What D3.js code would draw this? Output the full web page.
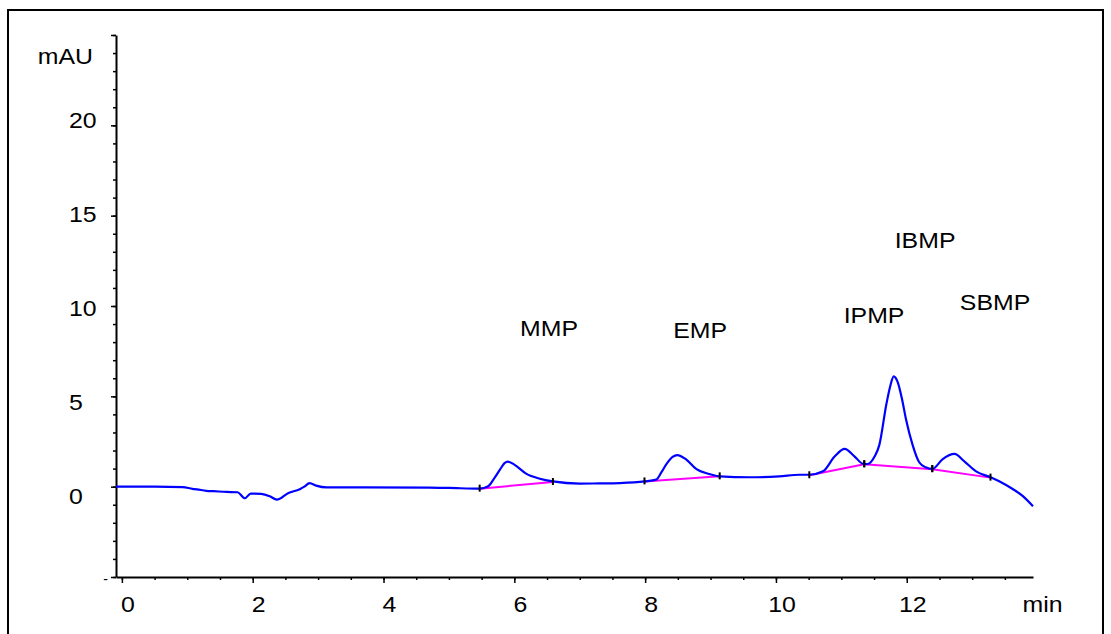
<!DOCTYPE html>
<html>
<head>
<meta charset="utf-8">
<script src="https://cdn.jsdelivr.net/npm/d3@7"></script>
<style>
  body { margin: 0; background: #fff; }
  text { font-family: "Liberation Sans", Arial, sans-serif; fill: #000; }
</style>
</head>
<body>
<div id="chart"></div>
<script>
// chromatogram trace (retention time in min, signal in mAU)
var rtMin = [-0.09, 0.5, 0.93, 1.08, 1.15, 1.29, 1.4, 1.6, 1.77, 1.88, 1.97, 2.13, 2.26, 2.37, 2.54, 2.72, 2.79, 2.87, 2.97, 3.13, 3.7, 4.7, 5.0, 5.47,
  5.6, 5.7, 5.78, 5.85, 5.9, 6.0, 6.18, 6.39, 6.59, 7.0, 7.3, 7.61, 7.99, 8.17, 8.25, 8.32, 8.42, 8.49, 8.63, 8.78, 8.98, 9.14, 9.6,
  10.05, 10.36, 10.51, 10.72, 10.9, 11.05, 11.2, 11.33, 11.4, 11.51, 11.58, 11.69, 11.75, 11.8, 11.86, 11.93, 11.99, 12.09, 12.19, 12.29, 12.39,
  12.55, 12.73, 12.88, 13.06, 13.28, 13.42, 13.62, 13.78, 13.93];
var mAU = [0.0, 0.0, -0.02, -0.12, -0.15, -0.23, -0.25, -0.29, -0.31, -0.64, -0.38, -0.4, -0.53, -0.72, -0.36, -0.14, 0.0, 0.2, 0.06, -0.04, -0.04, -0.05, -0.07, -0.11,
  0.02, 0.5, 0.94, 1.3, 1.39, 1.22, 0.72, 0.44, 0.29, 0.17, 0.18, 0.2, 0.29, 0.39, 0.8, 1.22, 1.65, 1.75, 1.5, 0.98, 0.7, 0.57, 0.52,
  0.57, 0.66, 0.66, 0.85, 1.68, 2.09, 1.68, 1.27, 1.25, 1.68, 2.3, 4.6, 5.6, 6.11, 5.8, 4.8, 3.7, 2.3, 1.35, 1.07, 0.98,
  1.53, 1.81, 1.4, 0.85, 0.52, 0.29, -0.13, -0.54, -1.09];

// integration baselines: start / end of each peak
var peakNames = ["MMP", "EMP", "IPMP", "IBMP", "SBMP"];
var baseStartRT = [5.47, 7.99, 10.51, 11.35, 12.39];
var baseStartMAU = [-0.11, 0.29, 0.63, 1.24, 0.97];
var baseEndRT = [6.59, 9.14, 11.35, 12.39, 13.28];
var baseEndMAU = [0.26, 0.57, 1.24, 0.97, 0.5];

// peak name label anchors
var labelRT = [6.53, 8.84, 11.5, 12.28, 13.35];
var labelMAU = [8.78, 8.67, 9.5, 13.65, 10.22];

// axis ticks
var yMajor = [-5, 0, 5, 10, 15, 20, 25];
var yMinor = d3.range(-5, 26, 1);
var yLabels = [0, 5, 10, 15, 20];
var xMajor = [0, 2, 4, 6, 8, 10, 12];
var xMinor = d3.range(0, 13.51, 0.5);

var W = 1111, H = 634;
var svg = d3.select("#chart").append("svg")
  .attr("width", W).attr("height", H);

// outer frame
svg.append("rect")
  .attr("x", 8).attr("y", 10)
  .attr("width", 1095).attr("height", 640)
  .attr("fill", "none").attr("stroke", "#000").attr("stroke-width", 2);

var x = d3.scaleLinear().domain([-0.09, 13.93]).range([116, 1033]);
var y = d3.scaleLinear().domain([-5, 25]).range([577, 35]);
// tick labels sit a bit off the ticks in the original export
var yLab = d3.scaleLinear().domain([0, 20]).range([496, 120]);

var stretch = "scale(1.13,1)";

// y axis
svg.append("g").attr("transform", "translate(116,0)")
  .call(d3.axisLeft(y).tickValues(yMinor).tickSize(3).tickFormat(""))
  .call(g => g.select(".domain").remove())
  .selectAll("line").attr("stroke-width", 1.5);
svg.append("g").attr("transform", "translate(116,0)")
  .call(d3.axisLeft(y).tickValues(yMajor).tickSize(5).tickSizeOuter(0).tickFormat(""))
  .call(g => g.select(".domain").attr("stroke-width", 2))
  .selectAll("line").attr("stroke-width", 1.5);

svg.selectAll(".ylab").data(yLabels).enter().append("text")
  .attr("class", "ylab")
  .attr("transform", d => "translate(69," + (yLab(d) + 8) + ") " + stretch)
  .style("font-size", "22px")
  .text(d => d);
svg.append("text")
  .attr("transform", "translate(93,64) " + stretch)
  .attr("text-anchor", "end")
  .style("font-size", "22px")
  .text("mAU");
svg.append("text")
  .attr("x", 108).attr("y", y(-5) + 7)
  .attr("text-anchor", "end")
  .style("font-size", "14px")
  .text("-");

// x axis
svg.append("g").attr("transform", "translate(0,577)")
  .call(d3.axisBottom(x).tickValues(xMinor).tickSize(3).tickFormat(""))
  .call(g => g.select(".domain").remove())
  .selectAll("line").attr("stroke-width", 1.5);
svg.append("g").attr("transform", "translate(0,577)")
  .call(d3.axisBottom(x).tickValues(xMajor).tickSize(6).tickSizeOuter(0).tickFormat(""))
  .call(g => g.select(".domain").attr("stroke-width", 2))
  .selectAll("line").attr("stroke-width", 1.5);

svg.selectAll(".xlab").data(xMajor).enter().append("text")
  .attr("class", "xlab")
  .attr("transform", d => "translate(" + (x(d) + 6) + ",612) " + stretch)
  .attr("text-anchor", "middle")
  .style("font-size", "22px")
  .text(d => d);
svg.append("text")
  .attr("transform", "translate(" + (x(14) + 5) + ",612) " + stretch)
  .attr("text-anchor", "middle")
  .style("font-size", "22px")
  .text("min");

// baselines
var baseData = peakNames.map(function(n, i) {
  return { name: n, t0: baseStartRT[i], v0: baseStartMAU[i], t1: baseEndRT[i], v1: baseEndMAU[i] };
});
svg.selectAll(".base").data(baseData).enter().append("line")
  .attr("class", "base")
  .attr("x1", d => x(d.t0)).attr("y1", d => y(d.v0))
  .attr("x2", d => x(d.t1)).attr("y2", d => y(d.v1))
  .attr("stroke", "#ff00ff").attr("stroke-width", 2);

// trace
var trace = rtMin.map((t, i) => [t, mAU[i]]);
svg.append("path")
  .datum(trace)
  .attr("fill", "none")
  .attr("stroke", "#0000ff")
  .attr("stroke-width", 2.2)
  .attr("stroke-linejoin", "round")
  .attr("d", d3.line().x(d => x(d[0])).y(d => y(d[1])).curve(d3.curveMonotoneX));

// baseline start/end tick marks
var marks = [];
baseData.forEach(function(d) {
  marks.push([d.t0, d.v0]);
  marks.push([d.t1, d.v1]);
});
svg.selectAll(".mark").data(marks).enter().append("line")
  .attr("class", "mark")
  .attr("x1", d => x(d[0])).attr("x2", d => x(d[0]))
  .attr("y1", d => y(d[1]) - 4).attr("y2", d => y(d[1]) + 3)
  .attr("stroke", "#000").attr("stroke-width", 2);

// peak names
svg.selectAll(".pname").data(peakNames).enter().append("text")
  .attr("class", "pname")
  .attr("transform", (d, i) => "translate(" + x(labelRT[i]) + "," + (y(labelMAU[i]) + 8) + ") " + stretch)
  .attr("text-anchor", "middle")
  .style("font-size", "22px")
  .text(d => d);
</script>
</body>
</html>
